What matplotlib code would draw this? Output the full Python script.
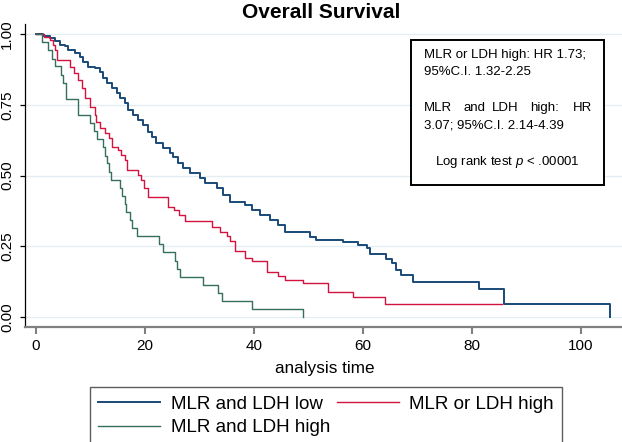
import matplotlib
matplotlib.use("Agg")
import matplotlib.pyplot as plt

plt.rcParams["font.family"] = ["Liberation Sans", "DejaVu Sans"]
plt.rcParams["mathtext.fontset"] = "custom"
plt.rcParams["mathtext.it"] = "Liberation Sans:italic"

# Kaplan-Meier steps (time, survival after the step)
low_t = [0, 1.3, 2.6, 3.5, 4.4, 5.3, 5.9, 7.2, 8.1, 8.7, 9.6, 10.8, 11.7, 12.3, 13.0,
         13.9, 14.8, 15.4, 16.3, 16.9, 17.9, 18.8, 19.7, 20.6, 21.4, 22.1, 23.4, 24.6,
         25.2, 26.1, 27.0, 28.3, 30.1, 31.0, 33.2, 34.4, 35.6, 38.3, 39.6, 41.1, 42.9,
         44.5, 45.7, 50.3, 51.5, 56.4, 59.1, 60.7, 61.3, 64.2, 65.3, 66.2, 67.1, 69.2,
         81.3, 85.9, 105.4]
low_s = [1.0, 0.992, 0.986, 0.975, 0.963, 0.957, 0.944, 0.932, 0.92, 0.903, 0.885, 0.879,
         0.868, 0.845, 0.826, 0.809, 0.791, 0.774, 0.755, 0.732, 0.714, 0.697, 0.679, 0.655,
         0.635, 0.614, 0.596, 0.58, 0.565, 0.543, 0.526, 0.508, 0.49, 0.473, 0.455, 0.431,
         0.408, 0.396, 0.378, 0.36, 0.343, 0.325, 0.302, 0.284, 0.272, 0.266, 0.255, 0.243,
         0.223, 0.207, 0.19, 0.166, 0.149, 0.125, 0.098, 0.048, 0.0]

or_t = [0, 1.5, 2.5, 3.2, 3.5, 3.9, 6.2, 7.0, 7.8, 8.4, 9.0, 9.9, 10.8, 11.1, 11.8, 12.7,
        13.4, 13.9, 15.1, 15.7, 16.3, 16.7, 18.8, 19.3, 19.8, 20.6, 24.3, 25.3, 26.2, 27.3,
        32.3, 33.8, 35.0, 35.6, 36.6, 38.3, 39.6, 42.4, 44.5, 45.7, 49.0, 53.6, 58.2, 64.0,
        85.6]
or_s = [1.0, 0.99, 0.98, 0.962, 0.944, 0.909, 0.885, 0.862, 0.838, 0.809, 0.773, 0.744,
        0.714, 0.69, 0.667, 0.65, 0.632, 0.602, 0.59, 0.573, 0.555, 0.52, 0.502, 0.484,
        0.455, 0.425, 0.39, 0.378, 0.36, 0.34, 0.319, 0.302, 0.287, 0.268, 0.234, 0.21,
        0.198, 0.16, 0.147, 0.131, 0.119, 0.087, 0.072, 0.048, 0.048]

and_t = [0, 1.2, 2.3, 2.9, 3.5, 4.7, 5.0, 5.5, 7.8, 9.9, 10.7, 11.3, 12.3, 12.7, 13.0, 13.4,
         13.8, 15.4, 15.8, 16.3, 16.6, 17.2, 17.7, 18.5, 22.6, 23.4, 25.6, 25.9, 26.4, 30.7,
         33.5, 34.1, 39.6, 49.0]
and_s = [1.0, 0.971, 0.943, 0.914, 0.886, 0.857, 0.829, 0.771, 0.714, 0.686, 0.657, 0.629,
         0.6, 0.571, 0.543, 0.514, 0.486, 0.457, 0.429, 0.4, 0.371, 0.343, 0.314, 0.286,
         0.257, 0.229, 0.2, 0.171, 0.143, 0.114, 0.086, 0.057, 0.029, 0.0]

labels = ["MLR and LDH low", "MLR and LDH high", "MLR or LDH high"]
colors = ["#1a4a78", "#356f60", "#d3123f"]
yticks = [0.0, 0.25, 0.5, 0.75, 1.0]
xticks = [0, 20, 40, 60, 80, 100]

W, H = 622, 442
fig = plt.figure(figsize=(W / 100, H / 100), dpi=100)
ax = fig.add_axes([25 / W, 1 - 327 / H, 1 - 25 / W, (327 - 24) / H])

for y in yticks:
    ax.axhline(y, color="#e4edf1", lw=1.0, zorder=0)

h1, = ax.step(low_t, low_s, where="post", color=colors[0], lw=1.4)
h3, = ax.step(or_t, or_s, where="post", color=colors[2], lw=1.0)
h2, = ax.step(and_t, and_s, where="post", color=colors[1], lw=1.0)

ax.set_xlim(-2.0, 107.6)
ax.set_ylim(-0.035, 1.036)
ax.set_xticks(xticks)
ax.set_yticks(yticks)
ax.set_yticklabels([f"{v:.2f}" for v in yticks], rotation=90, va="center")
ax.tick_params(axis="x", length=5, width=1.5, color="#808080", labelsize=11, pad=4)
ax.tick_params(axis="y", length=3.5, width=0.9, color="black", labelsize=11, pad=4.5)
for s in ["top", "right"]:
    ax.spines[s].set_visible(False)
ax.spines["bottom"].set_color("#808080")
ax.spines["bottom"].set_linewidth(1.6)
ax.spines["left"].set_linewidth(0.9)

fig.text(321 / W, 1 - 13 / H, "Overall Survival", ha="center", va="center",
         fontsize=15, fontweight="bold")
fig.text(325 / W, 1 - 369 / H, "analysis time", ha="center", va="center", fontsize=12.3)

# annotation box
box = plt.Rectangle((411 / W, 1 - 185 / H), (604 - 411) / W, (185 - 40) / H,
                    transform=fig.transFigure, fill=True, facecolor="white",
                    edgecolor="black", lw=1.4, zorder=5)
fig.patches.append(box)
fs = 9.5
fig.text(424 / W, 1 - 55 / H, "MLR or LDH high: HR 1.73;", fontsize=fs, va="center", zorder=6)
fig.text(424 / W, 1 - 72 / H, "95%C.I. 1.32-2.25", fontsize=fs, va="center", zorder=6)
for word, px in zip(["MLR", "and", "LDH", "high:", "HR"], [424, 463, 492, 530, 573]):
    fig.text(px / W, 1 - 108 / H, word, fontsize=fs, va="center", zorder=6)
fig.text(424 / W, 1 - 126 / H, "3.07; 95%C.I. 2.14-4.39", fontsize=fs, va="center", zorder=6)
fig.text(507 / W, 1 - 162 / H, r"Log rank test $p$ < .00001", fontsize=fs,
         ha="center", va="center", zorder=6)

leg = fig.legend([h1, h2, h3], labels, ncol=2, loc="upper left",
                 bbox_to_anchor=(90 / W, 1 - 387 / H - 0.01, (562 - 90) / W, 0.01),
                 mode="expand", fontsize=13.5, frameon=True, fancybox=False,
                 handlelength=3.3, handletextpad=0.55, labelspacing=0.35,
                 borderpad=0.45, borderaxespad=0)
leg.get_frame().set_edgecolor("#333333")
leg.get_frame().set_linewidth(1.0)

fig.savefig("out.png", dpi=100)
